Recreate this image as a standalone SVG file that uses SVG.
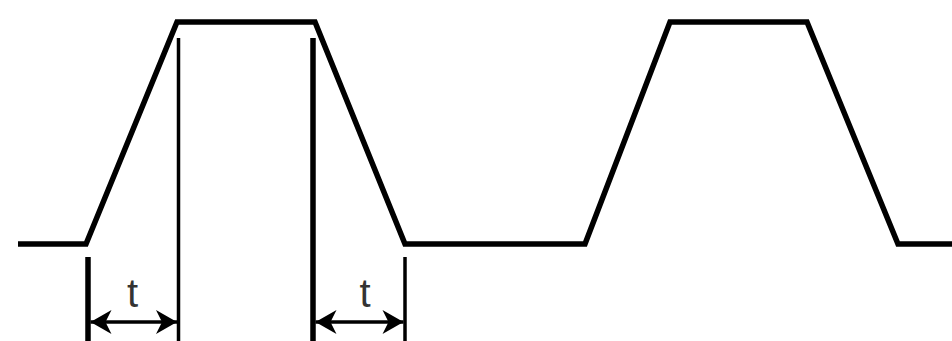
<svg xmlns="http://www.w3.org/2000/svg" width="952" height="341" viewBox="0 0 952 341">
<style>
.wave{fill:none;stroke:#000;stroke-width:5.5;stroke-linejoin:miter}
.thick{stroke:#000;stroke-width:5.5}
.thin{stroke:#000;stroke-width:3.5}
.dim{stroke:#000;stroke-width:3.5;fill:none}
.lbl{font-family:"Liberation Sans",Arial,sans-serif;font-size:40px;fill:#333;text-anchor:middle}
</style>
<defs>
<marker id="ah" markerUnits="userSpaceOnUse" viewBox="-23 -13 24 26" refX="0" refY="0" markerWidth="24" markerHeight="26" orient="auto-start-reverse">
<path d="M0,0 L-21,-12 L-15,0 L-21,12 Z" fill="#000"/>
</marker>
</defs>
<g id="waveform">
<polyline class="wave" points="18,244 86,244 177,22 315,22 405,244 585,244 670,22 807,22 898,244 952,244"/>
</g>
<g id="markers">
<line class="thick" x1="88" y1="257" x2="88" y2="341"/>
<line class="thin" x1="178.5" y1="38" x2="178.5" y2="341"/>
<line class="thick" x1="313" y1="38" x2="313" y2="341"/>
<line class="thin" x1="405" y1="257" x2="405" y2="341"/>
</g>
<g id="connectors">
<line class="dim" x1="90.5" y1="322" x2="177" y2="322" marker-start="url(#ah)" marker-end="url(#ah)"/>
<line class="dim" x1="315.5" y1="322" x2="403.5" y2="322" marker-start="url(#ah)" marker-end="url(#ah)"/>
</g>
<g id="label-t1"><text class="lbl" x="132.5" y="307">t</text></g>
<g id="label-t2"><text class="lbl" x="365" y="307">t</text></g>
</svg>
